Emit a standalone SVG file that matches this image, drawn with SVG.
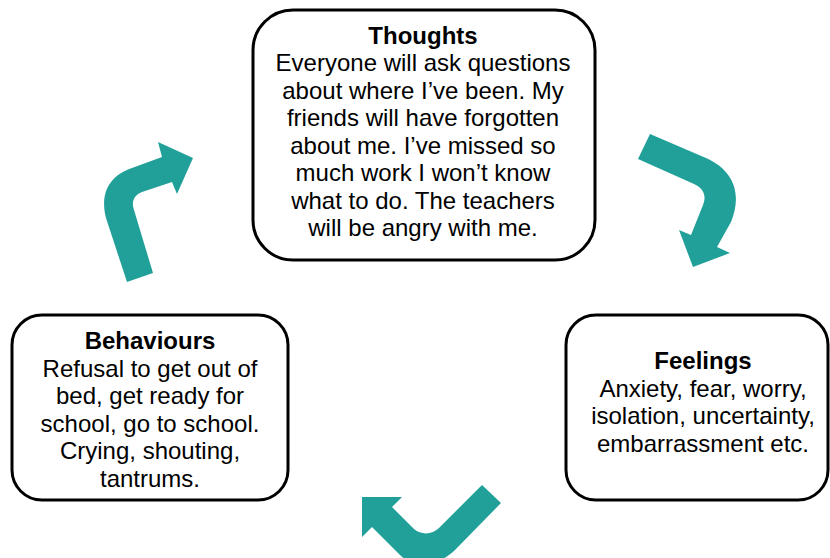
<svg xmlns="http://www.w3.org/2000/svg" width="830" height="558" viewBox="0 0 830 558">
<style>
.box{fill:#fff;stroke:#000;stroke-width:3}
.t{font-family:"Liberation Sans",Arial,sans-serif;font-size:24px;fill:#000;text-anchor:middle}
.b{font-weight:bold}
.arr{fill:#21A09A}
</style>
<rect width="830" height="558" fill="#fff"/>
<g id="connectors">
<path class="arr" d="M127,282 L106,218 C100,195 108,176 132,168 L162,157 L158,142 L193,158 L177,194 L172,182 L142,192 C134,195 131,202 134,210 L153,273 Z"/>
<path class="arr" d="M650,134 L706,158 C735,171 742,195 731,222 L717,247 L730,253 L693,267 L679,230 L691,235 L703,205 C707,195 703,188 694,184 L638,159 Z"/>
<path class="arr" d="M482,485 L501,503 L455,550 C440,565 415,570 400,555 L372,527 L362,537 L362,497 L402,497 L392,507 L414,529 C421,535 432,535 439,528 Z"/>
</g>
<g id="thoughts">
<rect class="box" x="253" y="10" width="342" height="250" rx="40"/>
<text class="t"><tspan class="b" x="423" y="43.5">Thoughts</tspan><tspan x="423" y="71">Everyone will ask questions</tspan><tspan x="423" y="98.5">about where I’ve been. My</tspan><tspan x="423" y="126">friends will have forgotten</tspan><tspan x="423" y="153.5">about me. I’ve missed so</tspan><tspan x="423" y="181">much work I won’t know</tspan><tspan x="423" y="208.5">what to do. The teachers</tspan><tspan x="423" y="236">will be angry with me.</tspan></text>
</g>
<g id="behaviours">
<rect class="box" x="12" y="315" width="276" height="185" rx="30"/>
<text class="t"><tspan class="b" x="150" y="349">Behaviours</tspan><tspan x="150" y="376.5">Refusal to get out of</tspan><tspan x="150" y="404">bed, get ready for</tspan><tspan x="150" y="431.5">school, go to school.</tspan><tspan x="150" y="459">Crying, shouting,</tspan><tspan x="150" y="486.5">tantrums.</tspan></text>
</g>
<g id="feelings">
<rect class="box" x="566" y="315" width="262" height="185" rx="30"/>
<text class="t"><tspan class="b" x="703" y="369">Feelings</tspan><tspan x="703" y="396.5">Anxiety, fear, worry,</tspan><tspan x="703" y="424">isolation, uncertainty,</tspan><tspan x="703" y="451.5">embarrassment etc.</tspan></text>
</g>
</svg>
